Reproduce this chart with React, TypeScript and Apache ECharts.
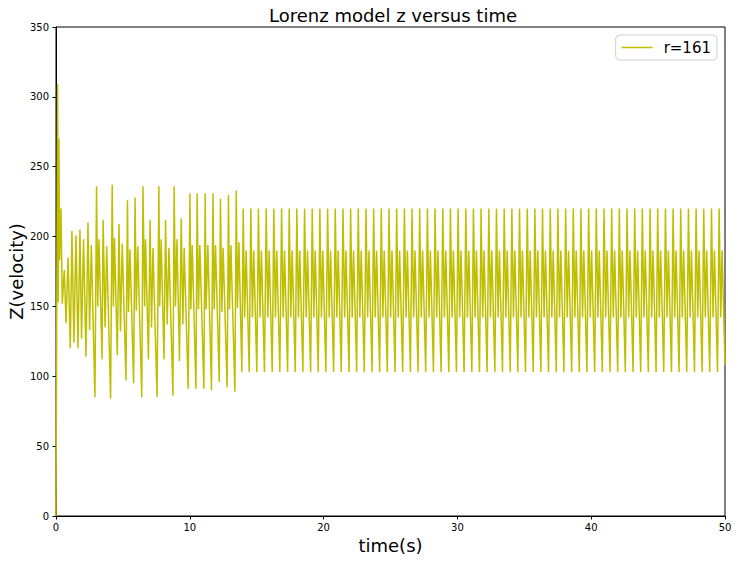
import React, { useEffect, useRef } from "react";
import * as echarts from "echarts";

// Transient extrema (time, z)
const transientTimes: number[] = [
  0, 0.12, 0.17, 0.22, 0.27, 0.37, 0.47, 0.62, 0.75, 0.9,
  1.07, 1.19, 1.34, 1.49, 1.64, 1.79, 1.91, 2.06, 2.24, 2.39,
  2.51, 2.64, 2.91, 3.03, 3.12, 3.21, 3.44, 3.52, 3.67, 3.79,
  4.08, 4.2, 4.29, 4.37, 4.58, 4.71, 4.82, 4.95, 5.23, 5.34,
  5.42, 5.53, 5.8, 5.91, 6.0, 6.11, 6.41, 6.5, 6.62, 6.69,
  6.91, 7.03, 7.14, 7.25, 7.55, 7.69, 7.75, 7.86, 8.07, 8.19,
  8.31, 8.44, 8.74, 8.83, 8.93, 9.04, 9.23, 9.36, 9.48, 9.58,
  9.88, 10.01, 10.08, 10.18, 10.46, 10.55, 10.65, 10.75, 11.05, 11.15,
  11.22, 11.35, 11.62, 11.73, 11.82, 11.92, 12.2, 12.29, 12.4, 12.49,
  12.79, 12.89, 12.97, 13.07, 13.37, 13.47, 13.56, 13.67, 13.89, 13.99,
  14.1, 14.21, 14.44,
];
const transientZ: number[] = [
  0, 309, 153, 270, 183, 220, 152, 176, 138, 185,
  120, 204, 124, 201, 120, 205, 127, 198, 114, 210,
  133, 194, 85, 236, 150, 198, 112, 212, 135, 193,
  84, 237, 150, 199, 115, 209, 132, 195, 97, 226,
  146, 191, 95, 228, 147, 193, 85, 236, 150, 198,
  112, 212, 135, 192, 85, 236, 150, 198, 112, 212,
  137, 192, 86, 236, 150, 198, 111, 213, 137, 192,
  91, 231, 148, 194, 91, 231, 148, 194, 91, 231,
  148, 194, 90, 231, 148, 194, 96, 227, 146, 192,
  92, 230, 148, 194, 89, 233, 149, 196, 103, 220,
  142, 190, 103,
];

// Steady periodic regime: each row = one cycle (peak, trough, peak, trough)
const steadyTimes: number[][] = [
  [14.56, 14.68, 14.78, 15.01], [15.13, 15.25, 15.35, 15.58], [15.71, 15.83, 15.93, 16.16],
  [16.28, 16.4, 16.5, 16.73], [16.86, 16.98, 17.08, 17.31], [17.43, 17.55, 17.65, 17.88],
  [18.0, 18.12, 18.22, 18.45], [18.58, 18.7, 18.8, 19.03], [19.15, 19.27, 19.37, 19.6],
  [19.72, 19.84, 19.94, 20.17], [20.3, 20.42, 20.52, 20.75], [20.87, 20.99, 21.09, 21.32],
  [21.45, 21.57, 21.67, 21.9], [22.02, 22.14, 22.24, 22.47], [22.59, 22.71, 22.81, 23.04],
  [23.17, 23.29, 23.39, 23.62], [23.74, 23.86, 23.96, 24.19], [24.31, 24.43, 24.53, 24.76],
  [24.89, 25.01, 25.11, 25.34], [25.46, 25.58, 25.68, 25.91], [26.04, 26.16, 26.26, 26.49],
  [26.61, 26.73, 26.83, 27.06], [27.18, 27.3, 27.4, 27.63], [27.76, 27.88, 27.98, 28.21],
  [28.33, 28.45, 28.55, 28.78], [28.91, 29.03, 29.13, 29.36], [29.48, 29.6, 29.7, 29.93],
  [30.05, 30.17, 30.27, 30.5], [30.63, 30.75, 30.85, 31.08], [31.2, 31.32, 31.42, 31.65],
  [31.77, 31.89, 31.99, 32.22], [32.35, 32.47, 32.57, 32.8], [32.92, 33.04, 33.14, 33.37],
  [33.5, 33.62, 33.72, 33.95], [34.07, 34.19, 34.29, 34.52], [34.64, 34.76, 34.86, 35.09],
  [35.22, 35.34, 35.44, 35.67], [35.79, 35.91, 36.01, 36.24], [36.36, 36.48, 36.58, 36.81],
  [36.94, 37.06, 37.16, 37.39], [37.51, 37.63, 37.73, 37.96], [38.09, 38.21, 38.31, 38.54],
  [38.66, 38.78, 38.88, 39.11], [39.23, 39.35, 39.45, 39.68], [39.81, 39.93, 40.03, 40.26],
  [40.38, 40.5, 40.6, 40.83], [40.96, 41.08, 41.18, 41.41], [41.53, 41.65, 41.75, 41.98],
  [42.1, 42.22, 42.32, 42.55], [42.68, 42.8, 42.9, 43.13], [43.25, 43.37, 43.47, 43.7],
  [43.82, 43.94, 44.04, 44.27], [44.4, 44.52, 44.62, 44.85], [44.97, 45.09, 45.19, 45.42],
  [45.55, 45.67, 45.77, 46.0], [46.12, 46.24, 46.34, 46.57], [46.69, 46.81, 46.91, 47.14],
  [47.27, 47.39, 47.49, 47.72], [47.84, 47.96, 48.06, 48.29], [48.41, 48.53, 48.63, 48.86],
  [48.99, 49.11, 49.21, 49.44], [49.56, 49.68, 49.78, 50.0],
];
const steadyZ: number[][] = [
  [220, 142, 190, 103], [220, 142, 190, 103], [220, 142, 190, 103],
  [220, 142, 190, 103], [220, 142, 190, 103], [220, 142, 190, 103],
  [220, 142, 190, 103], [220, 142, 190, 103], [220, 142, 190, 103],
  [220, 142, 190, 103], [220, 142, 190, 103], [220, 142, 190, 103],
  [220, 142, 190, 103], [220, 142, 190, 103], [220, 142, 190, 103],
  [220, 142, 190, 103], [220, 142, 190, 103], [220, 142, 190, 103],
  [220, 142, 190, 103], [220, 142, 190, 103], [220, 142, 190, 103],
  [220, 142, 190, 103], [220, 142, 190, 103], [220, 142, 190, 103],
  [220, 142, 190, 103], [220, 142, 190, 103], [220, 142, 190, 103],
  [220, 142, 190, 103], [220, 142, 190, 103], [220, 142, 190, 103],
  [220, 142, 190, 103], [220, 142, 190, 103], [220, 142, 190, 103],
  [220, 142, 190, 103], [220, 142, 190, 103], [220, 142, 190, 103],
  [220, 142, 190, 103], [220, 142, 190, 103], [220, 142, 190, 103],
  [220, 142, 190, 103], [220, 142, 190, 103], [220, 142, 190, 103],
  [220, 142, 190, 103], [220, 142, 190, 103], [220, 142, 190, 103],
  [220, 142, 190, 103], [220, 142, 190, 103], [220, 142, 190, 103],
  [220, 142, 190, 103], [220, 142, 190, 103], [220, 142, 190, 103],
  [220, 142, 190, 103], [220, 142, 190, 103], [220, 142, 190, 103],
  [220, 142, 190, 103], [220, 142, 190, 103], [220, 142, 190, 103],
  [220, 142, 190, 103], [220, 142, 190, 103], [220, 142, 190, 103],
  [220, 142, 190, 103], [220, 142, 190, 108],
];

const seriesName = "r=161";
const xTicks = { min: 0, max: 50, interval: 10 };
const yTicks = { min: 0, max: 350, interval: 50 };

export default function App() {
  const ref = useRef<HTMLDivElement>(null);
  useEffect(() => {
    if (!ref.current) return;
    const chart = echarts.init(ref.current, null, { renderer: "svg" });
    const data: number[][] = [];
    transientTimes.forEach((t, i) => data.push([t, transientZ[i]]));
    steadyTimes.forEach((row, r) =>
      row.forEach((t, j) => data.push([t, steadyZ[r][j]]))
    );
    const font = "DejaVu Sans";
    chart.setOption({
      animation: false,
      textStyle: { fontFamily: font },
      title: {
        text: "Lorenz model z versus time",
        left: 264,
        top: 1,
        textStyle: { fontSize: 18, fontWeight: "normal", color: "#000", fontFamily: font },
      },
      legend: {
        data: [{ name: seriesName, icon: "rect" }],
        right: 21,
        top: 35,
        itemWidth: 31,
        itemHeight: 1.5,
        borderColor: "#d0d0d0",
        borderWidth: 1,
        borderRadius: 4,
        padding: [5, 6, 5, 6],
        backgroundColor: "#fff",
        textStyle: { fontSize: 15, color: "#000", fontFamily: font, padding: [0, 0, 0, 6] },
      },
      grid: {
        left: 56,
        right: 13,
        top: 27,
        bottom: 46,
        show: true,
        borderColor: "#000",
        borderWidth: 1,
        outerBoundsMode: "none",
      },
      xAxis: {
        type: "value",
        ...xTicks,
        name: "time(s)",
        nameLocation: "middle",
        nameGap: 19,
        nameTextStyle: { fontSize: 18, color: "#000", fontFamily: font },
        axisLine: { show: true, onZero: false, lineStyle: { color: "#000", width: 1 } },
        axisTick: { show: true, length: 3.5, lineStyle: { color: "#000" } },
        axisLabel: { fontSize: 10, color: "#000", margin: 6, fontFamily: font },
        splitLine: { show: false },
      },
      yAxis: {
        type: "value",
        ...yTicks,
        name: "Z(velocity)",
        nameLocation: "middle",
        nameRotate: 90,
        nameGap: 31,
        nameMoveOverlap: false,
        nameTextStyle: { fontSize: 18, color: "#000", fontFamily: font },
        axisLine: { show: true, onZero: false, lineStyle: { color: "#000", width: 1 } },
        axisTick: { show: true, length: 3.5, lineStyle: { color: "#000" } },
        axisLabel: { fontSize: 10, color: "#000", margin: 7, fontFamily: font },
        splitLine: { show: false },
      },
      series: [
        {
          name: seriesName,
          type: "line",
          data,
          showSymbol: false,
          symbol: "none",
          lineStyle: { color: "#bfbf00", width: 1.5 },
          itemStyle: { color: "#bfbf00" },
        },
      ],
    });
    return () => chart.dispose();
  }, []);
  return (
    <div
      ref={ref}
      style={{ position: "absolute", left: 0, top: 0, width: 738, height: 562 }}
    />
  );
}
